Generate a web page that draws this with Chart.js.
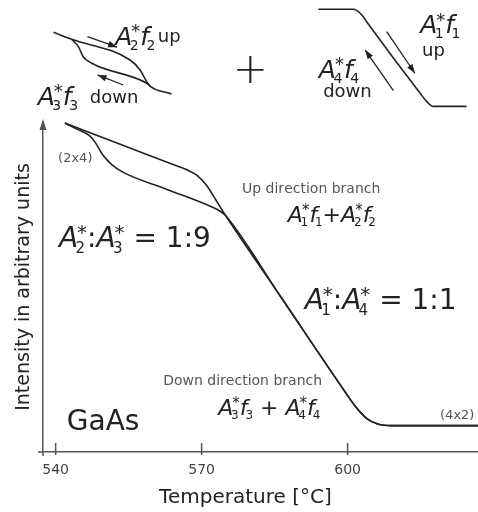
<!DOCTYPE html>
<html>
<head>
<meta charset="utf-8">
<script src="https://cdn.jsdelivr.net/npm/chart.js@4.4.1/dist/chart.umd.min.js"></script>
<style>
  body { margin: 0; background: #fff; }
  #wrap { position: relative; width: 478px; height: 512px; }
  canvas { position: absolute; left: 0; top: 0; }
</style>
</head>
<body>
<div id="wrap">
  <canvas id="main" width="478" height="512"></canvas>
  <canvas id="insets" width="478" height="115"></canvas>
</div>
<script>
const FONT = '"DejaVu Sans", sans-serif'
Chart.defaults.font.family = FONT
Chart.defaults.color = '#222'

// main plot: temperature (°C) -> intensity (arbitrary units)
const upTemps = [541.9, 553.0, 564.0, 567.0, 569.0, 571.0, 573.0, 575.0, 586.5, 599.5, 601.7, 603.8, 606.2, 609.1, 626.8]
const upIntensity = [99.7, 93.4, 87.2, 85.5, 83.9, 80.8, 76.2, 71.5, 46.5, 18.2, 13.6, 10.3, 8.5, 8.0, 8.0]
const downTemps = [541.9, 544.6, 547.0, 548.1, 549.7, 551.6, 553.8, 563.0, 572.0, 574.0, 575.0, 586.5, 599.5, 601.7, 603.8, 606.2, 609.1, 626.8]
const downIntensity = [99.7, 97.7, 95.8, 93.9, 90.0, 87.0, 84.8, 79.5, 74.3, 72.8, 71.5, 46.5, 18.2, 13.6, 10.3, 8.5, 8.0, 8.0]
const tempTicks = [540, 570, 600]

// sketches above the plot (arbitrary 0-100 units)
const loopUpX = [11.2, 15.0, 27.2, 29.3, 30.7, 31.4, 35.9]
const loopUpY = [71.9, 65.8, 47.8, 39.1, 29.0, 25.2, 18.3]
const loopDownX = [15.0, 16.4, 17.4, 19.2, 30.7, 31.4]
const loopDownY = [65.8, 59.4, 50.7, 45.0, 27.6, 25.2]
const stepX = [66.6, 73.9, 75.7, 76.7, 87.9, 89.3, 90.6, 97.6]
const stepY = [91.9, 91.9, 87.0, 81.1, 18.9, 11.6, 7.5, 7.5]
const loopArrows = [[18.3, 68.2, 24.5, 59.0], [25.8, 26.1, 20.4, 34.8]]
const stepArrows = [[80.9, 72.4, 86.8, 36.3], [82.3, 21.1, 76.4, 56.5]]

const mainNotes = [
	{ text: '(2x4)', x: 540.5, y: 87.9, size: 13, color: '#555' },
	{ text: 'A^*_2:A^*_3 = 1:9', x: 540.7, y: 62.1, size: 28, math: true },
	{ text: 'Up direction branch', x: 578.3, y: 78.5, size: 14, color: '#555' },
	{ text: 'A^*_1f_1+A^*_2f_2', x: 587.7, y: 69.7, size: 22, math: true },
	{ text: 'A^*_1:A^*_4 = 1:1', x: 591.2, y: 43.3, size: 28, math: true },
	{ text: 'Down direction branch', x: 562.1, y: 20.3, size: 14, color: '#555' },
	{ text: 'A^*_3f_3 + A^*_4f_4', x: 573.4, y: 11.2, size: 22, math: true },
	{ text: 'GaAs', x: 542.3, y: 6.7, size: 28 },
	{ text: '(4x2)', x: 619.0, y: 10.0, size: 13, color: '#555' },
]
const insetNotes = [
	{ text: 'A^*_2f_2', x: 24.1, y: 60.9, size: 25, math: true },
	{ text: 'up', x: 33.0, y: 63.5, size: 18 },
	{ text: 'A^*_3f_3', x: 7.9, y: 8.7, size: 25, math: true },
	{ text: 'down', x: 18.8, y: 10.4, size: 18 },
	{ text: '+', x: 48.7, y: 27.8, size: 42, weight: 200 },
	{ text: 'A^*_1f_1', x: 87.9, y: 71.3, size: 25, math: true },
	{ text: 'up', x: 88.3, y: 51.3, size: 18 },
	{ text: 'A^*_4f_4', x: 66.7, y: 32.2, size: 25, math: true },
	{ text: 'down', x: 67.6, y: 15.7, size: 18 },
]

const toPoints = (xs, ys) => xs.map((x, i) => ({ x, y: ys[i] }))

const curve = (xs, ys) => ({
	data: toPoints(xs, ys),
	borderColor: '#222',
	borderWidth: 1.6,
	pointRadius: 0,
	cubicInterpolationMode: 'monotone',
})

const arrow = a => ({
	data: [{ x: a[0], y: a[1] }, { x: a[2], y: a[3] }],
	borderColor: '#222',
	borderWidth: 1.3,
	pointRadius: 0,
	arrow: true,
})

// text with ^x superscripts and _x subscripts, A and f in italic when math
function drawRich(ctx, text, x, y, size, math, weight) {
	let cx = x
	let supW = 0
	for (let i = 0; i < text.length; i++) {
		const c = text[i]
		if (c === '^' || c === '_') {
			const s = text[++i]
			const small = Math.round(size * (s === '*' ? 0.7 : 0.55))
			ctx.font = `${small}px ${FONT}`
			const w = ctx.measureText(s).width
			if (c === '^') {
				ctx.fillText(s, cx - size * 0.04, y - size * 0.3)
				supW = w
			} else {
				ctx.fillText(s, cx - size * 0.1, y + size * 0.2)
				cx += Math.max(w - size * 0.1, supW - size * 0.04)
				supW = 0
			}
			continue
		}
		if (supW) {
			cx += supW
			supW = 0
		}
		const it = math && 'Af'.includes(c)
		ctx.font = `${it ? 'italic ' : ''}${weight || 400} ${size}px ${FONT}`
		ctx.fillText(c, cx, y)
		cx += ctx.measureText(c).width
	}
}

const notes = items => ({
	id: 'notes',
	afterDraw(chart) {
		const { ctx, scales } = chart
		ctx.save()
		ctx.textBaseline = 'alphabetic'
		ctx.textAlign = 'left'
		items.forEach(n => {
			ctx.fillStyle = n.color || '#222'
			drawRich(ctx, n.text, scales.x.getPixelForValue(n.x), scales.y.getPixelForValue(n.y), n.size, n.math, n.weight)
		})
		ctx.restore()
	},
})

const arrowHeads = {
	id: 'arrowHeads',
	afterDatasetsDraw(chart) {
		const ctx = chart.ctx
		chart.data.datasets.forEach((ds, i) => {
			if (!ds.arrow) return
			const pts = chart.getDatasetMeta(i).data
			const a = pts[0]
			const b = pts[pts.length - 1]
			const ang = Math.atan2(b.y - a.y, b.x - a.x)
			ctx.save()
			ctx.translate(b.x, b.y)
			ctx.rotate(ang)
			ctx.fillStyle = '#222'
			ctx.beginPath()
			ctx.moveTo(0, 0)
			ctx.lineTo(-9, -3.2)
			ctx.lineTo(-9, 3.2)
			ctx.closePath()
			ctx.fill()
			ctx.restore()
		})
	},
}

const axisExtras = {
	id: 'axisExtras',
	afterDraw(chart) {
		const { ctx, chartArea, scales } = chart
		const ax = scales.y.right
		ctx.save()
		ctx.strokeStyle = '#555'
		ctx.fillStyle = '#555'
		ctx.lineWidth = 1.5
		tempTicks.forEach(t => {
			const px = scales.x.getPixelForValue(t)
			ctx.beginPath()
			ctx.moveTo(px, chartArea.bottom - 9)
			ctx.lineTo(px, chartArea.bottom + 3)
			ctx.stroke()
		})
		// axes run slightly past their crossing
		ctx.beginPath()
		ctx.moveTo(ax - 5, chartArea.bottom)
		ctx.lineTo(ax, chartArea.bottom)
		ctx.moveTo(ax, chartArea.bottom)
		ctx.lineTo(ax, chartArea.bottom + 4)
		ctx.stroke()
		// arrow on the intensity axis
		ctx.beginPath()
		ctx.moveTo(ax, chartArea.top - 3)
		ctx.lineTo(ax - 3.5, chartArea.top + 8)
		ctx.lineTo(ax + 3.5, chartArea.top + 8)
		ctx.closePath()
		ctx.fill()
		// x axis title
		ctx.fillStyle = '#222'
		ctx.font = `20px ${FONT}`
		ctx.textAlign = 'center'
		ctx.textBaseline = 'middle'
		ctx.fillText('Temperature [°C]', scales.x.getPixelForValue(579), scales.x.bottom - 14)
		ctx.restore()
	},
}

new Chart(document.getElementById('main'), {
	type: 'line',
	data: {
		datasets: [curve(upTemps, upIntensity), curve(downTemps, downIntensity)],
	},
	options: {
		responsive: false,
		animation: false,
		events: [],
		layout: { padding: { top: 122, left: 0, right: 0, bottom: 0 } },
		plugins: { legend: { display: false }, tooltip: { enabled: false } },
		scales: {
			x: {
				type: 'linear',
				min: 537.4,
				max: 626.8,
				grid: { display: false },
				border: { color: '#555', width: 1.5 },
				ticks: { font: { size: 14 }, color: '#444', padding: 2 },
				afterBuildTicks: axis => {
					axis.ticks = tempTicks.map(v => ({ value: v }))
				},
				afterFit: axis => {
					axis.height = 60
				},
			},
			y: {
				min: 0,
				max: 100,
				grid: { display: false },
				border: { color: '#555', width: 1.5 },
				ticks: { display: false },
				title: {
					display: true,
					text: 'Intensity in arbitrary units',
					font: { size: 19 },
					color: '#222',
					padding: { top: 13, bottom: 0 },
				},
				afterFit: axis => {
					axis.width = 43
				},
			},
		},
	},
	plugins: [axisExtras, notes(mainNotes)],
})

new Chart(document.getElementById('insets'), {
	type: 'line',
	data: {
		datasets: [
			curve(loopUpX, loopUpY),
			curve(loopDownX, loopDownY),
			curve(stepX, stepY),
			...loopArrows.map(arrow),
			...stepArrows.map(arrow),
		],
	},
	options: {
		responsive: false,
		animation: false,
		events: [],
		layout: { padding: 0 },
		plugins: { legend: { display: false }, tooltip: { enabled: false } },
		scales: {
			x: { type: 'linear', display: false, min: 0, max: 100 },
			y: { display: false, min: 0, max: 100 },
		},
	},
	plugins: [arrowHeads, notes(insetNotes)],
})
</script>
</body>
</html>
